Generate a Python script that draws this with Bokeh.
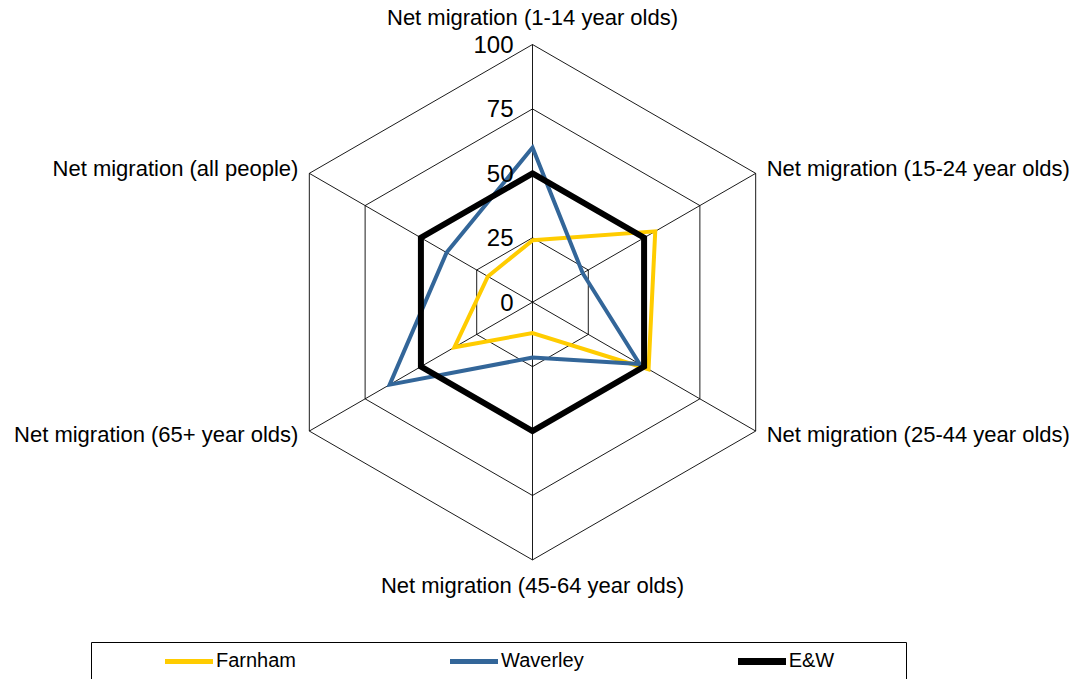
import numpy as np
from bokeh.plotting import figure
from bokeh.models import Range1d, Legend, LegendItem, ColumnDataSource
from bokeh.core.properties import value
from bokeh.embed import file_html
from bokeh.resources import INLINE

# ---- data ----
categories = [
    "Net migration (1-14 year olds)",
    "Net migration (15-24 year olds)",
    "Net migration (25-44 year olds)",
    "Net migration (45-64 year olds)",
    "Net migration (65+ year olds)",
    "Net migration (all people)",
]
farnham = [24, 55, 52, 12, 35, 20]
waverley = [60, 22.5, 48, 21.5, 64, 38.5]
ew = [50, 50, 50, 50, 50, 50]
ticks = [0, 25, 50, 75, 100]
series_names = ["Farnham", "Waverley", "E&W"]

# ---- layout / style ----
W, H = 1085, 679
K = 2.577            # px per unit
CX, CY = 532, 301.7  # radar centre in figure px
FONT = value("Liberation Sans")
colors = ["#FFCC00", "#336699", "#000000"]
widths = [4, 4, 6]
legend_widths = [5, 5, 7]

def px_x(sx):
    return (sx - CX) / K

def px_y(sy):
    return (CY - sy) / K

p = figure(width=W, height=H,
           x_range=Range1d(-CX / K, (W - CX) / K),
           y_range=Range1d(-(H - CY) / K, CY / K),
           output_backend="svg", toolbar_location=None, min_border=0,
           x_axis_location=None, y_axis_location=None)
p.grid.visible = False
p.outline_line_color = None

n = len(categories)
theta = np.pi / 2 - np.arange(n) * 2 * np.pi / n
rmax = ticks[-1]

# grid hexagons
gx, gy = [], []
for t in ticks[1:]:
    gx.append(list(t * np.cos(theta)) + [t * np.cos(theta[0])])
    gy.append(list(t * np.sin(theta)) + [t * np.sin(theta[0])])
p.multi_line(gx, gy, line_color="black", line_width=0.9)
# spokes
p.multi_line([[0, rmax * np.cos(a)] for a in theta],
             [[0, rmax * np.sin(a)] for a in theta],
             line_color="black", line_width=0.9)

# series
legend_items = []
for name, vals, c, w, lw in zip(series_names, [farnham, waverley, ew], colors, widths, legend_widths):
    v = np.array(vals, dtype=float)
    p.patch(v * np.cos(theta), v * np.sin(theta), fill_color=None,
            line_color=c, line_width=w, line_join="miter")
    r = p.line(x=[np.nan], y=[np.nan], line_color=c, line_width=lw, line_cap="round")
    legend_items.append(LegendItem(label=name, renderers=[r]))

# tick labels
p.text(x=[0] * len(ticks), y=ticks, text=[str(t) for t in ticks],
       text_align="right", text_baseline="middle", x_offset=-19,
       text_font=FONT, text_font_size="24px", text_color="black")

# category labels
lab_src = ColumnDataSource(dict(
    x=rmax * np.cos(theta), y=rmax * np.sin(theta), text=categories,
    align=["center", "left", "left", "center", "right", "right"],
    xo=[0, 11, 11, 0, -11, -11],
    yo=[-27, -5, 3, 26, 3, -5],
))
p.text(x="x", y="y", text="text", source=lab_src, text_align="align",
       text_baseline="middle", x_offset="xo", y_offset="yo",
       text_font=FONT, text_font_size="22px", text_color="black")

# legend frame
p.quad(left=[px_x(91)], right=[px_x(906)], top=[px_y(642)], bottom=[px_y(720)],
       fill_color=None, line_color="black", line_width=1)

legend = Legend(items=legend_items, orientation="horizontal", location=(165, 7),
                border_line_color=None, background_fill_alpha=0,
                glyph_width=48, glyph_height=18, label_height=18, label_standoff=3,
                spacing=154, padding=0, margin=0,
                label_text_font="Liberation Sans", label_text_font_size="20px",
                label_text_color="black")
p.add_layout(legend)

open("out.html", "w").write(file_html(p, INLINE))
